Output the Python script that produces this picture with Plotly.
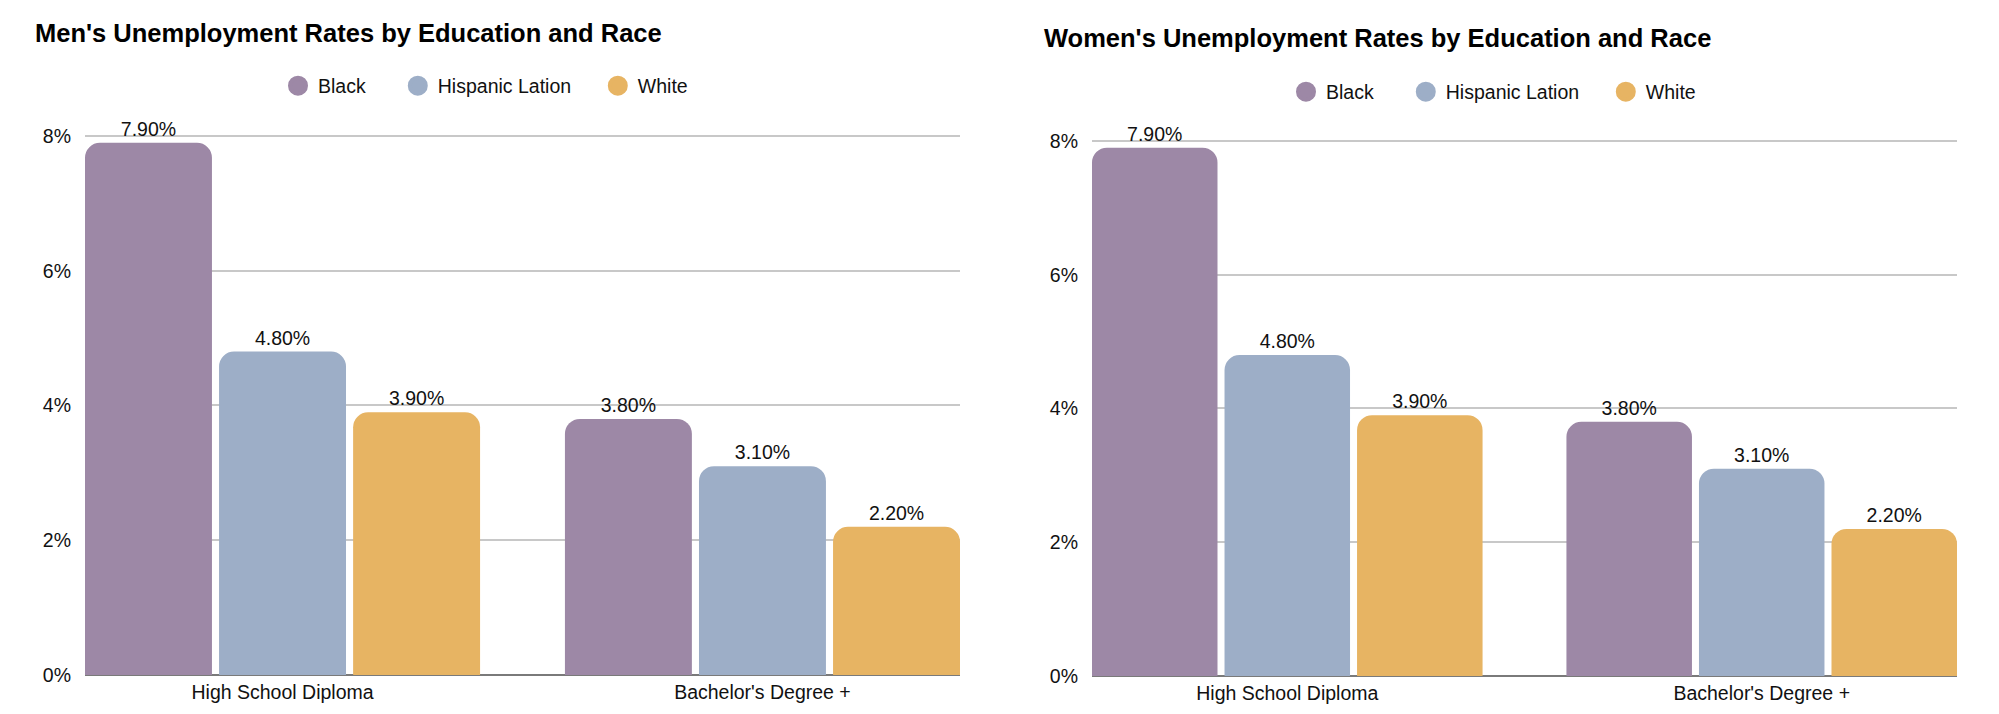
import plotly.graph_objects as go

CATEGORIES = ["High School Diploma", "Bachelor's Degree +"]
SERIES = ["Black", "Hispanic Lation", "White"]

MEN_BLACK = [7.9, 3.8]
MEN_HISPANIC = [4.8, 3.1]
MEN_WHITE = [3.9, 2.2]

WOMEN_BLACK = [7.9, 3.8]
WOMEN_HISPANIC = [4.8, 3.1]
WOMEN_WHITE = [3.9, 2.2]

Y_TICKS = [0, 2, 4, 6, 8]
Y_TICK_LABELS = ["0%", "2%", "4%", "6%", "8%"]

COLORS = ["#9d88a6", "#9daec7", "#e7b463"]
# trailing no-break spaces widen the horizontal legend entries
LEGEND_PAD = [5, 4, 0]

WIDTH, HEIGHT = 1999, 714
FONT = "Liberation Sans, Arial, sans-serif"
TEXT_SIZE = 19.5

BARGAP = 0.162
BARGROUPGAP = 0.053
# a little headroom above 8% so plotly keeps drawing the top gridline
Y_TOP = 8.04


def px_x(x: float) -> float:
    return x / WIDTH


def px_y(y: float) -> float:
    return 1 - y / HEIGHT


def category_range() -> list[float]:
    # make the outer bars touch the plot edges, like the source chart
    slot = (1 - BARGAP) / len(SERIES)
    edge = (1 - BARGAP) / 2 - slot * BARGROUPGAP / 2
    return [-edge, len(CATEGORIES) - 1 + edge]


def y_domain(zero_px: float, eight_px: float) -> list[float]:
    top_px = zero_px - (zero_px - eight_px) * Y_TOP / 8
    return [px_y(zero_px), px_y(top_px)]


PANELS = [
    {
        "title": "Men's Unemployment Rates by Education and Race",
        "values": [MEN_BLACK, MEN_HISPANIC, MEN_WHITE],
        "x": "x",
        "y": "y",
        "legend": "legend",
        "x_px": (77, 952),
        "y_px": (667, 128),
        "title_px": (25, 25),
        "legend_px": (270, 78),
    },
    {
        "title": "Women's Unemployment Rates by Education and Race",
        "values": [WOMEN_BLACK, WOMEN_HISPANIC, WOMEN_WHITE],
        "x": "x2",
        "y": "y2",
        "legend": "legend2",
        "x_px": (1084, 1949),
        "y_px": (668, 133),
        "title_px": (1034, 30),
        "legend_px": (1278, 84),
    },
]


def build_figure() -> go.Figure:
    figure = go.Figure()
    annotations = []
    layout = {}

    for index, panel in enumerate(PANELS):
        for series, values, color, pad in zip(SERIES, panel["values"], COLORS, LEGEND_PAD):
            figure.add_trace(
                go.Bar(
                    x=CATEGORIES,
                    y=values,
                    name=series,
                    marker={"color": color, "line": {"width": 0}},
                    text=[f"{value:.2f}%" for value in values],
                    textposition="outside",
                    textfont={"size": TEXT_SIZE, "color": "#111111", "family": FONT},
                    cliponaxis=False,
                    showlegend=False,
                    xaxis=panel["x"],
                    yaxis=panel["y"],
                    hovertemplate=f"{series}<br>%{{x}}: %{{y:.2f}}%<extra></extra>",
                )
            )
            # legend-only marker; the outline grows the clamped legend dot to ~20px
            figure.add_trace(
                go.Scatter(
                    x=[None],
                    y=[None],
                    mode="markers",
                    name=series + "\u00a0" * pad,
                    marker={
                        "color": color,
                        "size": 20,
                        "symbol": "circle",
                        "line": {"color": color, "width": 4},
                    },
                    legend=panel["legend"],
                    xaxis=panel["x"],
                    yaxis=panel["y"],
                    hoverinfo="skip",
                )
            )

        suffix = "" if index == 0 else str(index + 1)
        layout[f"xaxis{suffix}"] = {
            "domain": [px_x(panel["x_px"][0]), px_x(panel["x_px"][1])],
            "anchor": panel["y"],
            "type": "category",
            "range": category_range(),
            "showgrid": False,
            "showline": False,
            "zeroline": False,
            "ticks": "",
            "ticklabelstandoff": 3,
            "tickfont": {"size": TEXT_SIZE, "color": "#111111"},
            "automargin": False,
        }
        layout[f"yaxis{suffix}"] = {
            "domain": y_domain(*panel["y_px"]),
            "anchor": panel["x"],
            "range": [0, Y_TOP],
            "tickvals": Y_TICKS,
            "ticktext": Y_TICK_LABELS,
            "showgrid": True,
            "gridcolor": "#c8c8c8",
            "gridwidth": 2,
            "zeroline": True,
            "zerolinecolor": "#7a7a7a",
            "zerolinewidth": 1.5,
            "showline": False,
            "ticks": "",
            "ticklabelstandoff": 13,
            "tickfont": {"size": TEXT_SIZE, "color": "#111111"},
            "automargin": False,
        }
        layout[panel["legend"]] = {
            "orientation": "h",
            "x": px_x(panel["legend_px"][0]),
            "y": px_y(panel["legend_px"][1]),
            "xanchor": "left",
            "yanchor": "middle",
            "bgcolor": "rgba(0,0,0,0)",
            "font": {"size": TEXT_SIZE, "color": "#111111", "family": FONT},
        }
        annotations.append(
            {
                "text": panel["title"],
                "x": px_x(panel["title_px"][0]),
                "y": px_y(panel["title_px"][1]),
                "xref": "paper",
                "yref": "paper",
                "xanchor": "left",
                "yanchor": "middle",
                "showarrow": False,
                "font": {"size": 25.5, "color": "#000000", "family": FONT, "weight": "bold"},
            }
        )

    figure.update_layout(
        width=WIDTH,
        height=HEIGHT,
        margin={"l": 0, "r": 0, "t": 0, "b": 0},
        paper_bgcolor="white",
        plot_bgcolor="white",
        font={"family": FONT, "size": TEXT_SIZE, "color": "#111111"},
        barmode="group",
        bargap=BARGAP,
        bargroupgap=BARGROUPGAP,
        barcornerradius=15,
        showlegend=True,
        annotations=annotations,
        **layout,
    )
    return figure


fig = build_figure()
fig.write_html("out.html")
